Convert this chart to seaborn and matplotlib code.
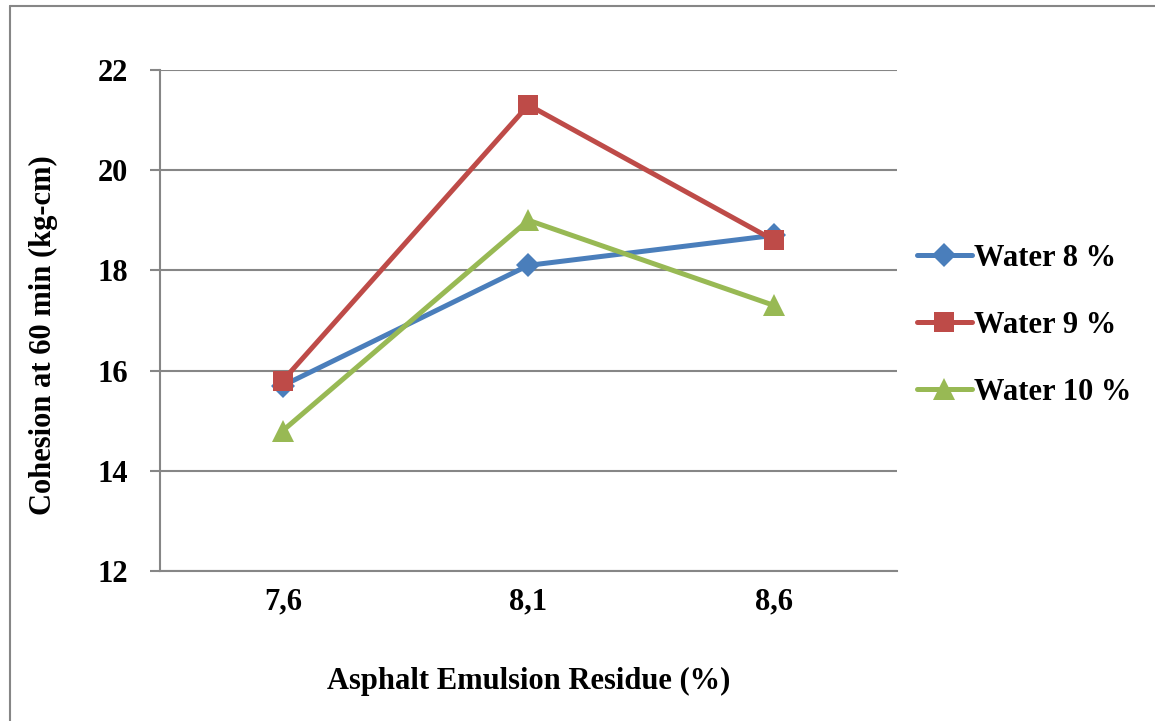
import pandas as pd
import matplotlib.pyplot as plt
import seaborn as sns
from matplotlib.lines import Line2D

# --------------------------------
# DATA
# --------------------------------

residue = ["7,6", "8,1", "8,6"]

water_8 = [15.7, 18.1, 18.7]
water_9 = [15.8, 21.3, 18.6]
water_10 = [14.8, 19.0, 17.3]

series_names = ["Water 8 %", "Water 9 %", "Water 10 %"]

yticks = [12, 14, 16, 18, 20, 22]

df = pd.DataFrame({
    "Residue": residue * 3,
    "pos": list(range(len(residue))) * 3,
    "Cohesion": water_8 + water_9 + water_10,
    "Series": [s for s in series_names for _ in residue]
})

# --------------------------------
# STYLE
# --------------------------------

sns.set_style("white")
plt.rcParams["font.family"] = ["Liberation Serif", "DejaVu Serif"]
plt.rcParams["font.weight"] = "bold"
plt.rcParams["text.color"] = "black"
plt.rcParams["axes.labelcolor"] = "black"
plt.rcParams["xtick.labelcolor"] = "black"
plt.rcParams["ytick.labelcolor"] = "black"

FS = 22

palette = {
    "Water 8 %": "#4A7EBB",
    "Water 9 %": "#BE4B48",
    "Water 10 %": "#98B954"
}

markers = {
    "Water 8 %": "D",
    "Water 9 %": "s",
    "Water 10 %": "^"
}

sizes = {
    "Water 8 %": 12,
    "Water 9 %": 15,
    "Water 10 %": 16
}

# --------------------------------
# PLOT
# --------------------------------

fig = plt.figure(figsize=(11.55, 7.21), dpi=100)
ax = fig.add_axes([0.1385, 0.208, 0.638, 0.695])

for name in series_names:
    sub = df[df["Series"] == name]
    sns.lineplot(
        data=sub,
        x="pos",
        y="Cohesion",
        color=palette[name],
        marker=markers[name],
        markersize=sizes[name],
        markeredgewidth=0,
        linewidth=3.6,
        ax=ax,
        label=name,
        zorder=3
    )

ax.set_xlim(-0.5, 2.5)
ax.set_ylim(12, 22)

ax.set_yticks(yticks)
ax.set_yticklabels([str(v) for v in yticks], fontsize=FS, fontweight="bold")

ax.set_xticks(range(len(residue)))
ax.set_xticklabels(residue, fontsize=FS, fontweight="bold")
ax.set_xticks([-0.5, 0.5, 1.5, 2.5], minor=True)

ax.tick_params(axis="x", which="major", length=0, pad=12)
ax.tick_params(axis="x", which="minor", length=7, width=1.5, color="#868686", direction="out")
ax.tick_params(axis="y", which="major", length=7, width=1.5, color="#868686", direction="out", left=True, pad=16)

ax.yaxis.grid(True, color="#868686", linewidth=1.5)
ax.set_axisbelow(True)

for side in ["top", "right"]:
    ax.spines[side].set_visible(False)
for side in ["left", "bottom"]:
    ax.spines[side].set_color("#868686")
    ax.spines[side].set_linewidth(1.5)

ax.set_xlabel("Asphalt Emulsion Residue (%)", fontsize=FS, fontweight="bold", labelpad=36)
ax.set_ylabel("Cohesion at 60 min (kg-cm)", fontsize=FS, fontweight="bold")
ax.yaxis.set_label_coords(-0.138, 0.47)

# --------------------------------
# LEGEND
# --------------------------------

handles = [
    Line2D([0], [0], color=palette[n], marker=markers[n], markersize=sizes[n],
           markeredgewidth=0, linewidth=3.6)
    for n in series_names
]

ax.legend(
    handles,
    series_names,
    loc="center left",
    bbox_to_anchor=(0.99, 0.49),
    frameon=False,
    prop={"size": FS, "weight": "bold"},
    handlelength=1.8,
    handletextpad=0.05,
    labelspacing=1.25
)

# outer chart border (top and left visible)
fig.add_artist(Line2D([0.0087, 0.0087], [0, 0.9917], color="#868686", linewidth=1.5))
fig.add_artist(Line2D([0.0087, 1.0], [0.9917, 0.9917], color="#868686", linewidth=1.5))

fig.savefig("out.png", dpi=100)
